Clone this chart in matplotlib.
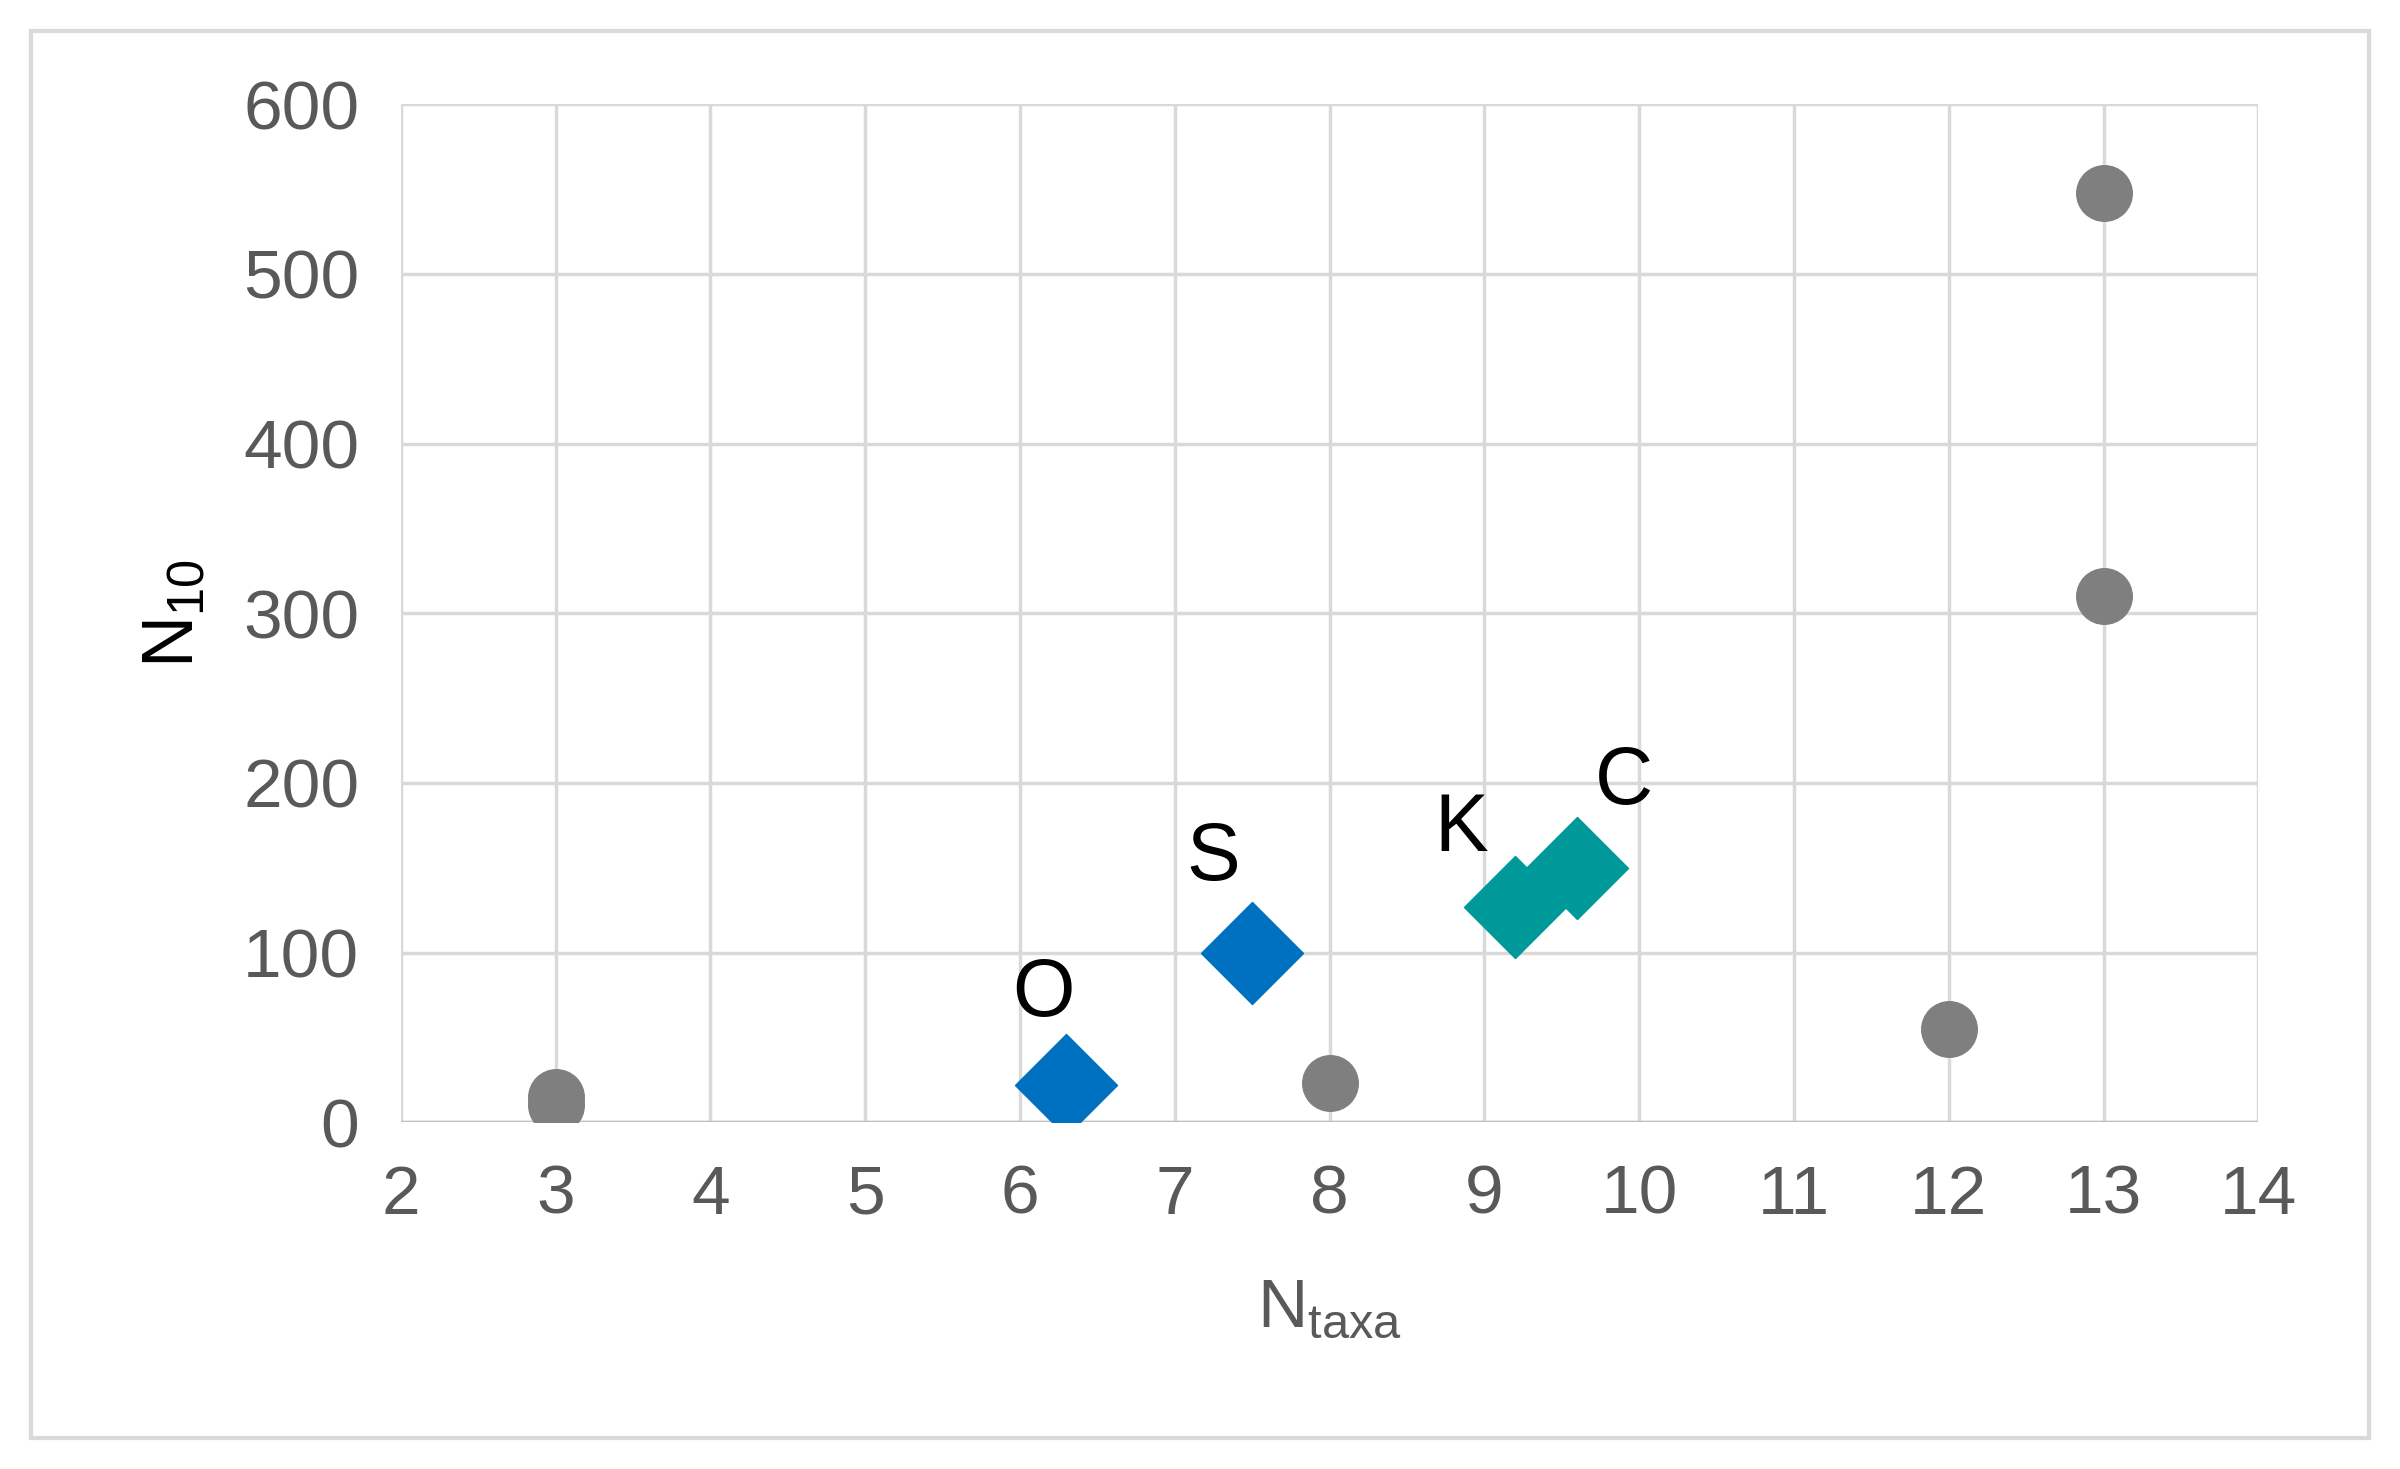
import matplotlib.pyplot as plt
from matplotlib.patches import Rectangle

plt.rcParams['font.family'] = ['Liberation Sans', 'DejaVu Sans']

grey_x = [3, 3, 8, 12, 13, 13]
grey_y = [10, 15, 23, 55, 310, 548]
blue_x = [6.3, 7.5]
blue_y = [22, 100]
teal_x = [9.2, 9.6]
teal_y = [127, 150]
labels = ['O', 'S', 'K', 'C']
label_x = [6.15, 7.25, 8.85, 9.9]
label_y = [75, 155, 172, 200]

fig = plt.figure(figsize=(24, 14.69), dpi=100)
fig.patches.append(Rectangle((0.013, 0.021), 0.974, 0.958, transform=fig.transFigure,
                             fill=False, edgecolor='#d9d9d9', linewidth=3))
ax = fig.add_axes([0.167, 0.236, 0.774, 0.693])

ax.scatter(grey_x, grey_y, s=1600, color='#7f7f7f', zorder=3)
ax.scatter(blue_x, blue_y, s=2700, marker='D', color='#0070c0', zorder=3)
ax.scatter(teal_x, teal_y, s=2700, marker='D', color='#009999', zorder=3)
for t, x, y in zip(labels, label_x, label_y):
    ax.text(x, y, t, fontsize=58, ha='center', va='center', color='black', zorder=4)

ax.set_xlim(2, 14)
ax.set_ylim(0, 600)
ax.set_xticks(range(2, 15))
ax.set_yticks(range(0, 601, 100))
ax.grid(True, color='#d9d9d9', linewidth=2.5)
ax.set_axisbelow(True)
for s in ax.spines.values():
    s.set_visible(False)
ax.axhline(0, color='#bfbfbf', linewidth=2.5, zorder=1)
ax.tick_params(length=0, labelsize=50, labelcolor='#595959', pad=30)
ax.set_xlabel('N$_{\\mathregular{taxa}}$', fontsize=50, color='#595959', labelpad=35)
ax.set_ylabel('N$_{\\mathregular{10}}$', fontsize=52, color='black', labelpad=25)

fig.savefig('out.png', dpi=100)
